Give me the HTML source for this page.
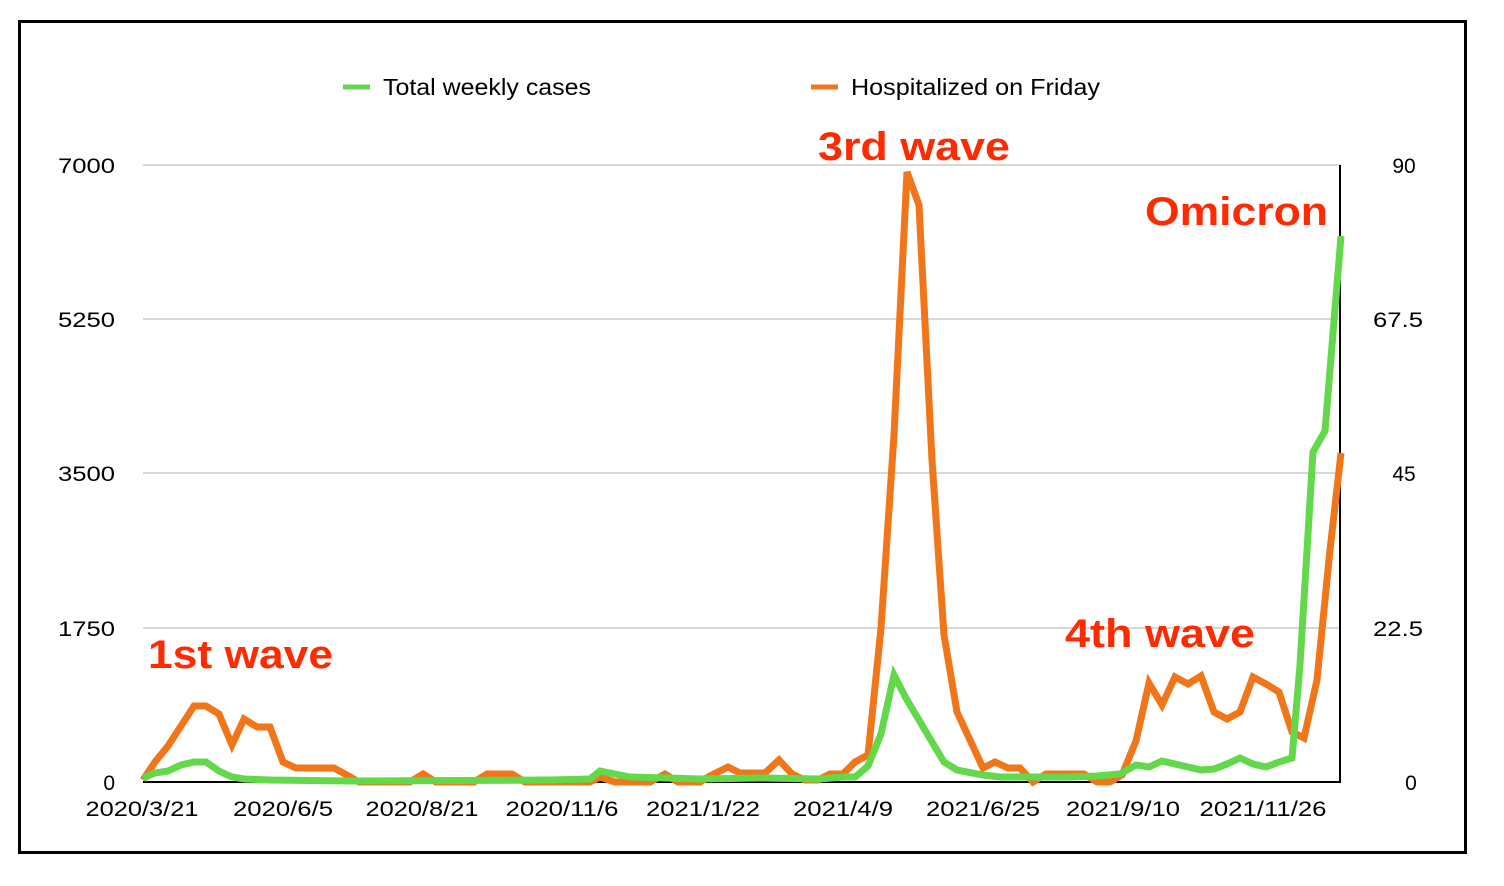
<!DOCTYPE html>
<html><head><meta charset="utf-8"><style>
html,body{margin:0;padding:0;background:#fff;}
svg{display:block;font-family:"Liberation Sans",Arial,sans-serif;}
</style></head><body>
<svg width="1504" height="886" viewBox="0 0 1504 886">
<rect x="19.5" y="21.5" width="1446" height="831" fill="#fff" stroke="#000" stroke-width="3"/>
<g stroke="#c0c0c0" stroke-width="1.2">
<line x1="143" y1="165" x2="1340" y2="165"/>
<line x1="143" y1="319" x2="1340" y2="319"/>
<line x1="143" y1="473" x2="1340" y2="473"/>
<line x1="143" y1="628" x2="1340" y2="628"/>
</g>
<line x1="143" y1="782" x2="1341" y2="782" stroke="#000" stroke-width="2"/>
<line x1="1340" y1="165" x2="1340" y2="783" stroke="#000" stroke-width="2"/>
<g font-size="21" fill="#000" text-anchor="end">
<text x="115" y="173" textLength="57" lengthAdjust="spacingAndGlyphs">7000</text><text x="115" y="327" textLength="57" lengthAdjust="spacingAndGlyphs">5250</text><text x="115" y="481" textLength="57" lengthAdjust="spacingAndGlyphs">3500</text><text x="115" y="636" textLength="57" lengthAdjust="spacingAndGlyphs">1750</text><text x="115" y="790">0</text>
</g>
<g font-size="21" fill="#000" text-anchor="middle">
<text x="1404" y="173">90</text><text x="1398" y="327" textLength="50" lengthAdjust="spacingAndGlyphs">67.5</text><text x="1404" y="481">45</text><text x="1398" y="636" textLength="50" lengthAdjust="spacingAndGlyphs">22.5</text><text x="1411" y="790">0</text>
<text x="142" y="816" textLength="113" lengthAdjust="spacingAndGlyphs">2020/3/21</text><text x="283" y="816" textLength="100" lengthAdjust="spacingAndGlyphs">2020/6/5</text><text x="422" y="816" textLength="113" lengthAdjust="spacingAndGlyphs">2020/8/21</text><text x="562" y="816" textLength="113" lengthAdjust="spacingAndGlyphs">2020/11/6</text><text x="703" y="816" textLength="114" lengthAdjust="spacingAndGlyphs">2021/1/22</text><text x="843" y="816" textLength="100" lengthAdjust="spacingAndGlyphs">2021/4/9</text><text x="983" y="816" textLength="114" lengthAdjust="spacingAndGlyphs">2021/6/25</text><text x="1123" y="816" textLength="114" lengthAdjust="spacingAndGlyphs">2021/9/10</text><text x="1263" y="816" textLength="127" lengthAdjust="spacingAndGlyphs">2021/11/26</text>
</g>
<line x1="343" y1="87" x2="370" y2="87" stroke="#62d84a" stroke-width="5"/>
<text x="383" y="95" font-size="23" textLength="208" lengthAdjust="spacingAndGlyphs">Total weekly cases</text>
<line x1="811" y1="87" x2="838" y2="87" stroke="#f07619" stroke-width="5"/>
<text x="851" y="95" font-size="23" textLength="249" lengthAdjust="spacingAndGlyphs">Hospitalized on Friday</text>
<polyline fill="none" stroke="#f07619" stroke-width="7" stroke-linejoin="miter" points="143,780 155,762 168,746 181,726 194,706 206,706 219,714 232,745 244,719 257,727 270,727 283,762 296,768 308,768 321,768 334,768 347,775 359,782 372,782 385,782 398,782 410,782 423,774 436,782 449,782 461,782 474,782 487,774 500,774 512,774 525,782 560,782 590,782 600,777 615,782 650,782 665,774 678,782 700,782 710,776 728,767 740,773 765,773 779,760 792,774 805,780 818,780 830,774 843,774 855,762 868,755 881,628 894,435 907,172 919,205 932,460 944,635 957,712 970,740 983,768 995,762 1008,768 1020,768 1033,782 1046,774 1059,774 1072,774 1084,774 1097,782 1110,782 1122,775 1136,741 1149,683 1162,705 1175,677 1188,684 1201,676 1214,712 1227,719 1240,712 1253,677 1266,684 1279,692 1292,732 1304,738 1317,680 1330,550 1341,453"/>
<polyline fill="none" stroke="#62d84a" stroke-width="7" stroke-linejoin="miter" points="143,778 155,773 168,771 181,765 194,762 206,762 219,771 232,777 244,779 270,780 350,781 550,780 590,779 600,771 615,774 630,777 700,779 760,778 820,779 843,777 855,777 868,766 881,734 894,675 907,700 919,720 932,742 944,762 957,770 983,775 1000,777 1072,777 1097,776 1120,774 1136,765 1149,767 1162,761 1175,764 1188,767 1201,770 1214,769 1227,764 1240,758 1253,764 1266,767 1279,762 1292,758 1300,665 1313,452 1325,431 1341,236"/>
<g font-size="40" font-weight="bold" fill="#ff2a00">
<text x="148" y="668" textLength="185" lengthAdjust="spacingAndGlyphs">1st wave</text>
<text x="818" y="160" textLength="192" lengthAdjust="spacingAndGlyphs">3rd wave</text>
<text x="1065" y="647" textLength="190" lengthAdjust="spacingAndGlyphs">4th wave</text>
<text x="1145" y="225" textLength="183" lengthAdjust="spacingAndGlyphs">Omicron</text>
</g>
</svg>
</body></html>
